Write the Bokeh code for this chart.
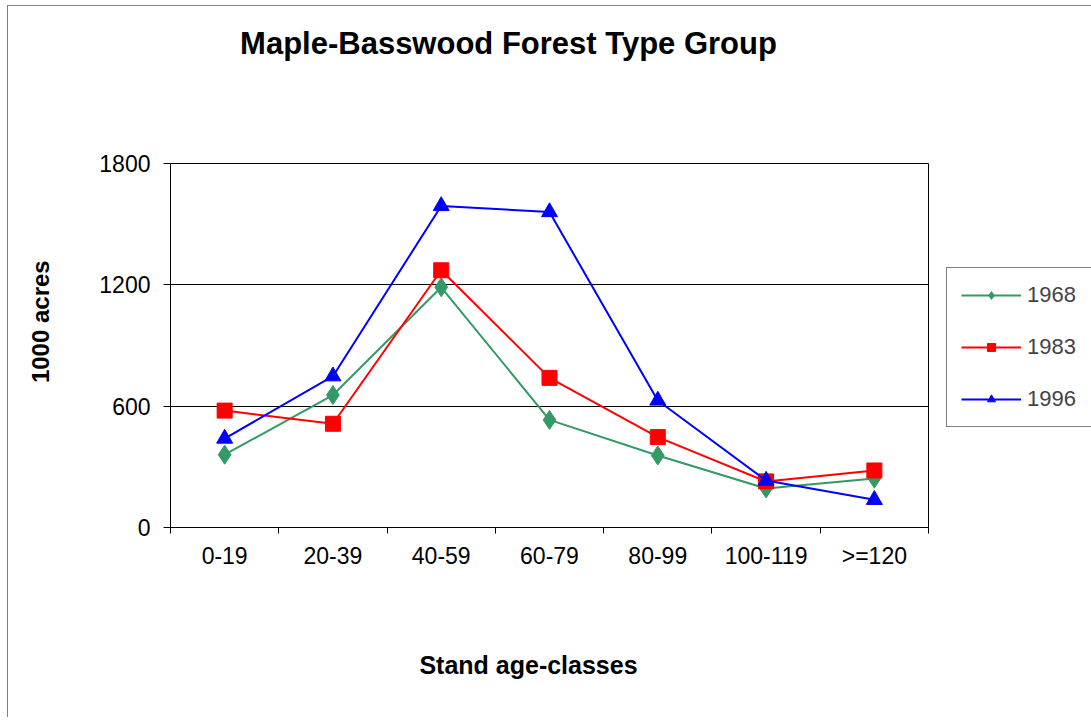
import math
from bokeh.plotting import figure
from bokeh.layouts import column, row
from bokeh.models import Range1d, FixedTicker, Label, Legend, LegendItem
from bokeh.embed import file_html
from bokeh.resources import INLINE

categories = ["0-19", "20-39", "40-59", "60-79", "80-99", "100-119", ">=120"]
series_names = ["1968", "1983", "1996"]
v1968 = [360, 655, 1188, 532, 356, 193, 242]
v1983 = [578, 513, 1272, 740, 447, 228, 282]
v1996 = [440, 748, 1590, 1560, 628, 232, 137]
y_ticks = [0, 600, 1200, 1800]

title_text = "Maple-Basswood Forest Type Group"
x_title = "Stand age-classes"
y_title = "1000 acres"

FONT = "Liberation Sans"


def text_fig(w, h):
    f = figure(output_backend="svg", toolbar_location=None, width=w, height=h,
               min_border=0, x_axis_location=None, y_axis_location=None,
               x_range=Range1d(0, w), y_range=Range1d(0, h),
               outline_line_color=None, background_fill_color="white",
               border_fill_color="white")
    f.grid.visible = False
    return f


# ---- title ----
tf = text_fig(1083, 130)
tf.add_layout(Label(x=500, y=130 - 37, text=title_text, text_align="center",
                    text_baseline="middle", text_font=FONT, text_font_style="bold",
                    text_font_size="31px", text_color="black"))

# ---- y-axis title ----
YW = 82
yf = text_fig(YW, 451)
yf.add_layout(Label(x=32, y=451 - 196, text=y_title, text_align="center",
                    text_baseline="middle", angle=math.pi / 2, text_font=FONT,
                    text_font_style="bold", text_font_size="24px", text_color="black"))

# ---- main chart ----
p = figure(output_backend="svg", toolbar_location=None,
           frame_width=758, frame_height=364,
           min_border_left=80, min_border_right=163,
           min_border_top=27, min_border_bottom=60,
           x_range=Range1d(0, len(categories)), y_range=Range1d(0, 1800),
           background_fill_color="white", border_fill_color="white")
p.outline_line_color = "black"
p.outline_line_width = 1

xs = [i + 0.5 for i in range(len(categories))]

xa = p.xaxis[0]
xa.ticker = FixedTicker(ticks=xs, minor_ticks=list(range(len(categories) + 1)))
xa.major_label_overrides = {x: c for x, c in zip(xs, categories)}
xa.major_tick_in = 0
xa.major_tick_out = 0
xa.minor_tick_in = 0
xa.minor_tick_out = 6
xa.minor_tick_line_color = "black"
xa.axis_line_color = "black"
xa.major_label_text_font = FONT
xa.major_label_text_font_size = "23px"
xa.major_label_text_color = "black"
xa.major_label_standoff = 9

ya = p.yaxis[0]
ya.ticker = FixedTicker(ticks=y_ticks)
ya.major_tick_in = 0
ya.major_tick_out = 7
ya.minor_tick_line_color = None
ya.major_tick_line_color = "black"
ya.axis_line_color = "black"
ya.major_label_text_font = FONT
ya.major_label_text_font_size = "23px"
ya.major_label_text_color = "black"
ya.major_label_standoff = 13

p.xgrid.grid_line_color = None
p.ygrid.ticker = FixedTicker(ticks=y_ticks)
p.ygrid.grid_line_color = "black"
p.ygrid.grid_line_width = 1

colors = ["#339966", "#FF0000", "#0000FF"]
markers = ["diamond", "square", "triangle"]
sizes = [19, 15, 16]
data = [v1968, v1983, v1996]

items = []
for name, vals, col, mk, sz in zip(series_names, data, colors, markers, sizes):
    l = p.line(xs, vals, line_color=col, line_width=2)
    s = p.scatter(xs, vals, marker=mk, size=sz, fill_color=col, line_color=col)
    items.append(LegendItem(label=name, renderers=[l, s]))

legend = Legend(items=items, location=(18, 100), margin=0,
                padding=14, spacing=26, glyph_width=60, glyph_height=20,
                label_height=20, label_width=52, label_standoff=6,
                label_text_font=FONT, label_text_font_size="22px",
                border_line_color="black", border_line_width=1,
                background_fill_color="white", background_fill_alpha=1)
p.add_layout(legend, "right")

# ---- x-axis title ----
xf = text_fig(1083, 130)
xf.add_layout(Label(x=520, y=130 - 77, text=x_title, text_align="center",
                    text_baseline="middle", text_font=FONT, text_font_style="bold",
                    text_font_size="25px", text_color="black"))

layout = column(tf, row(yf, p, spacing=0), xf, spacing=0)
layout.styles = {"margin-left": "7px", "margin-top": "5px",
                 "border-left": "1px solid #808080", "border-top": "1px solid #808080"}

open("out.html", "w").write(file_html(layout, INLINE))
